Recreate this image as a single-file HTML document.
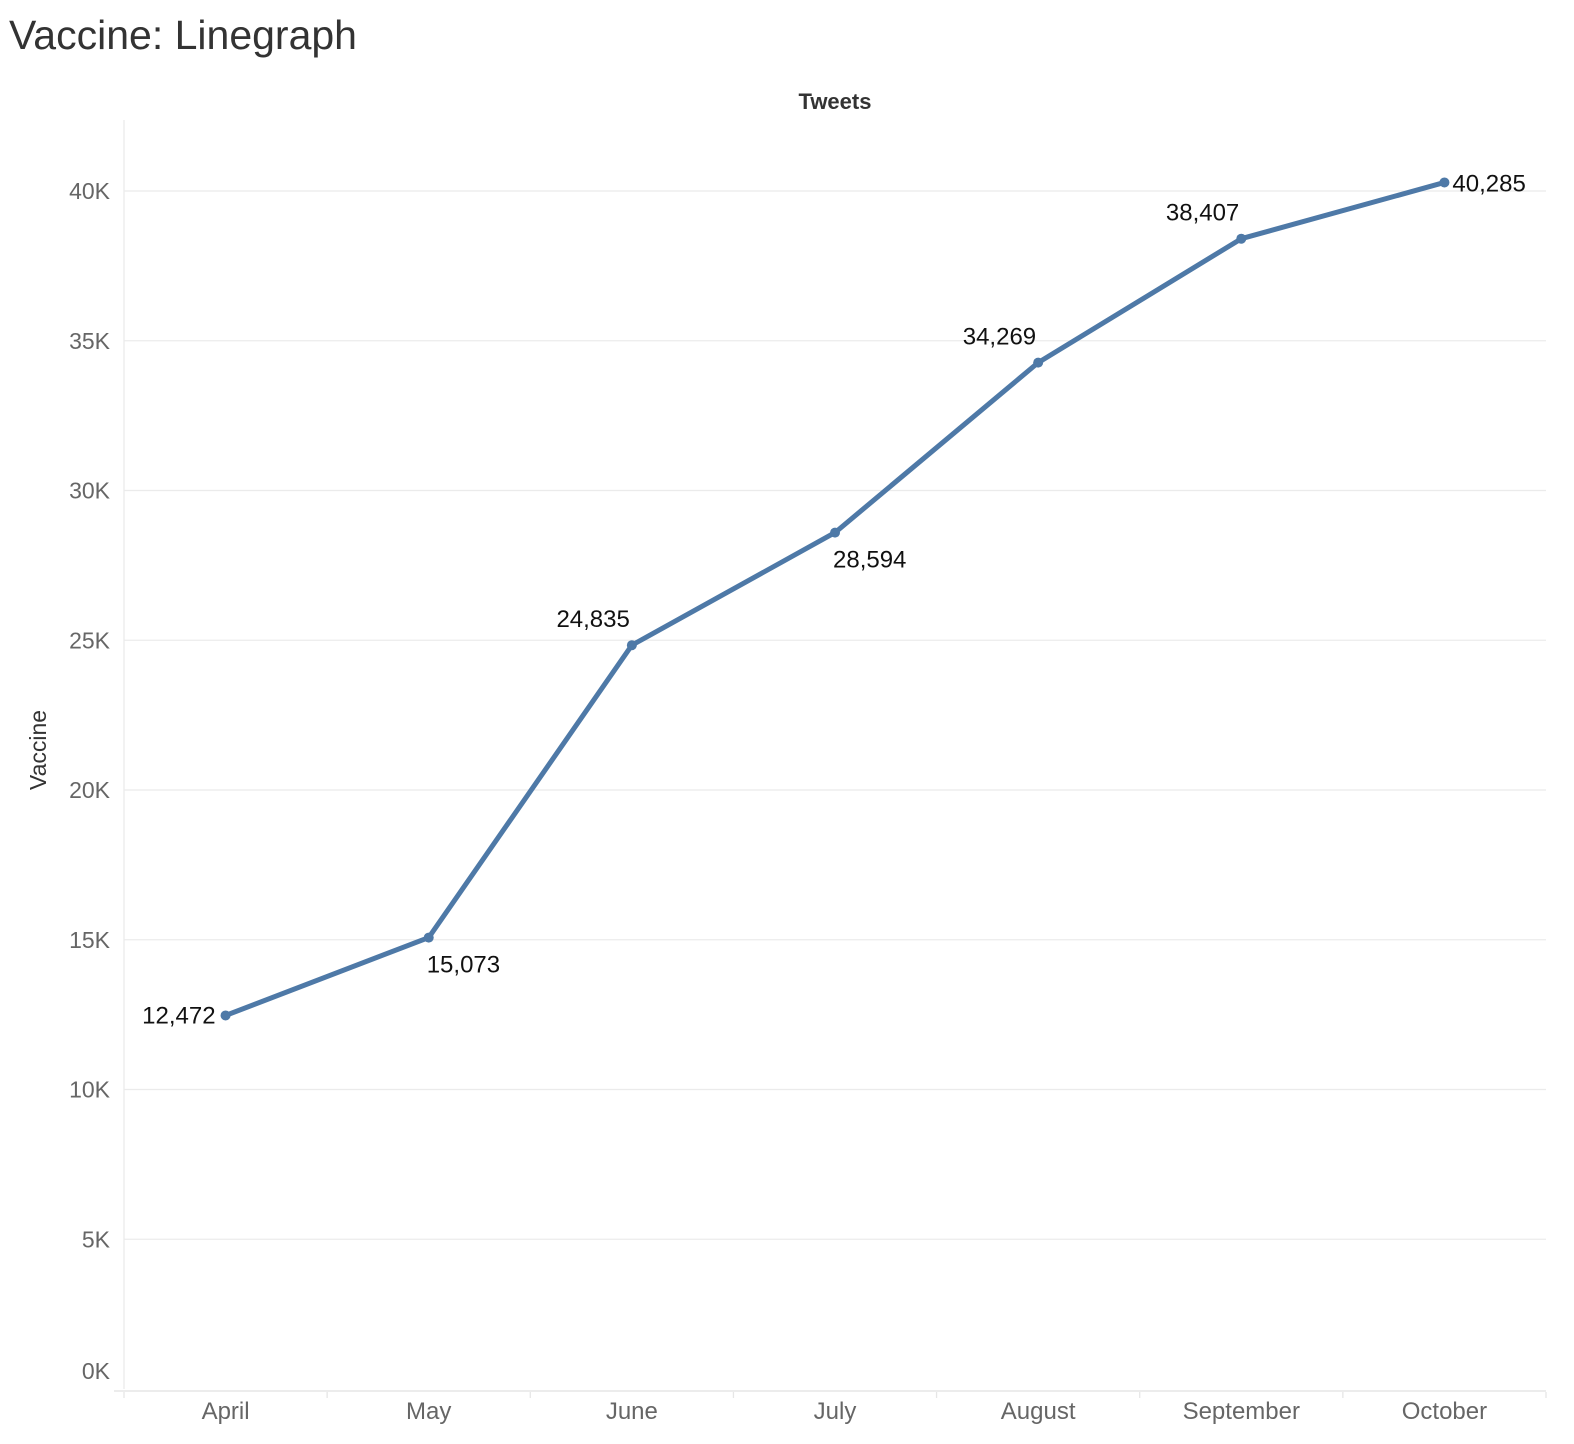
<!DOCTYPE html>
<html><head><meta charset="utf-8"><style>
body{margin:0;background:#fff;width:1574px;height:1444px;overflow:hidden;font-family:"Liberation Sans",sans-serif}
</style></head><body>
<div style="position:absolute;left:9px;top:12px;font-size:41px;color:#333">Vaccine: Linegraph</div>
<svg id="c" width="1574" height="1444" style="position:absolute;left:0;top:0;font-family:'Liberation Sans',sans-serif"></svg>
<script>
const categories=["April","May","June","July","August","September","October"];
const values=[12472,15073,24835,28594,34269,38407,40285];
const valueLabels=["12,472","15,073","24,835","28,594","34,269","38,407","40,285"];
const labelPos=["left","below","above","below","above","above","right"];
const yTicks=[0,5000,10000,15000,20000,25000,30000,35000,40000];
const yTickLabels=["0K","5K","10K","15K","20K","25K","30K","35K","40K"];
const NS="http://www.w3.org/2000/svg",svg=document.getElementById('c');
const L=124,R=1546,Y0=1389,Y40=191;
const y=v=>Y0-(v/40000)*(Y0-Y40);
const bw=(R-L)/categories.length;
const x=i=>L+bw*(i+0.5);
function el(t,a,p){const e=document.createElementNS(NS,t);for(const k in a)e.setAttribute(k,a[k]);(p||svg).appendChild(e);return e;}
yTicks.forEach((t,i)=>{
 if(t>0){const g=el('line',{x1:L,x2:R,y1:y(t),y2:y(t),stroke:'#ebebeb','stroke-width':1.3});
 
 }
 const tx=el('text',{x:110,y:t===0?y(t)-10:y(t)+8,'text-anchor':'end','font-size':23,fill:'#666'});
 tx.textContent=yTickLabels[i];
 
 
});
const ax=el('line',{x1:L,x2:L,y1:120,y2:Y0,stroke:'#ebebeb','stroke-width':1.3});


const bx=el('line',{x1:114,x2:R,y1:Y0+2,y2:Y0+2,stroke:'#e6e6e6','stroke-width':1.5});


for(let i=0;i<=categories.length;i++){const tk=el('line',{x1:L+bw*i,x2:L+bw*i,y1:Y0+3,y2:Y0+9,stroke:'#e6e6e6','stroke-width':1.3});
 
 }
categories.forEach((c,i)=>{const t=el('text',{x:x(i),y:1419,'text-anchor':'middle','font-size':24,fill:'#666'});t.textContent=c;
 
 });
const line=el('polyline',{points:values.map((v,i)=>x(i)+','+y(v)).join(' '),fill:'none',stroke:'#4e79a7','stroke-width':5,'stroke-linejoin':'round'});


values.forEach((v,i)=>{
 const d=el('circle',{cx:x(i),cy:y(v),r:5,fill:'#4e79a7'});
 
 
 const p=labelPos[i];let lx=x(i),ly=y(v),anc='start';
 if(p==='left'){lx-=10;ly+=8;anc='end';}
 else if(p==='right'){lx+=8;ly+=9;}
 else if(p==='below'){lx-=2;ly+=35;}
 else {lx-=2;ly-=18;anc='end';}
 const t=el('text',{x:lx,y:ly,'text-anchor':anc,'font-size':24,fill:'#111'});t.textContent=valueLabels[i];
 
 
});
const tt=el('text',{x:835,y:109,'text-anchor':'middle','font-size':22,'font-weight':'bold',fill:'#333'});tt.textContent='Tweets';


const yt=el('text',{x:0,y:0,'text-anchor':'middle','font-size':23,fill:'#333',transform:'translate(46,750) rotate(-90)'});yt.textContent='Vaccine';


</script>
</body></html>
